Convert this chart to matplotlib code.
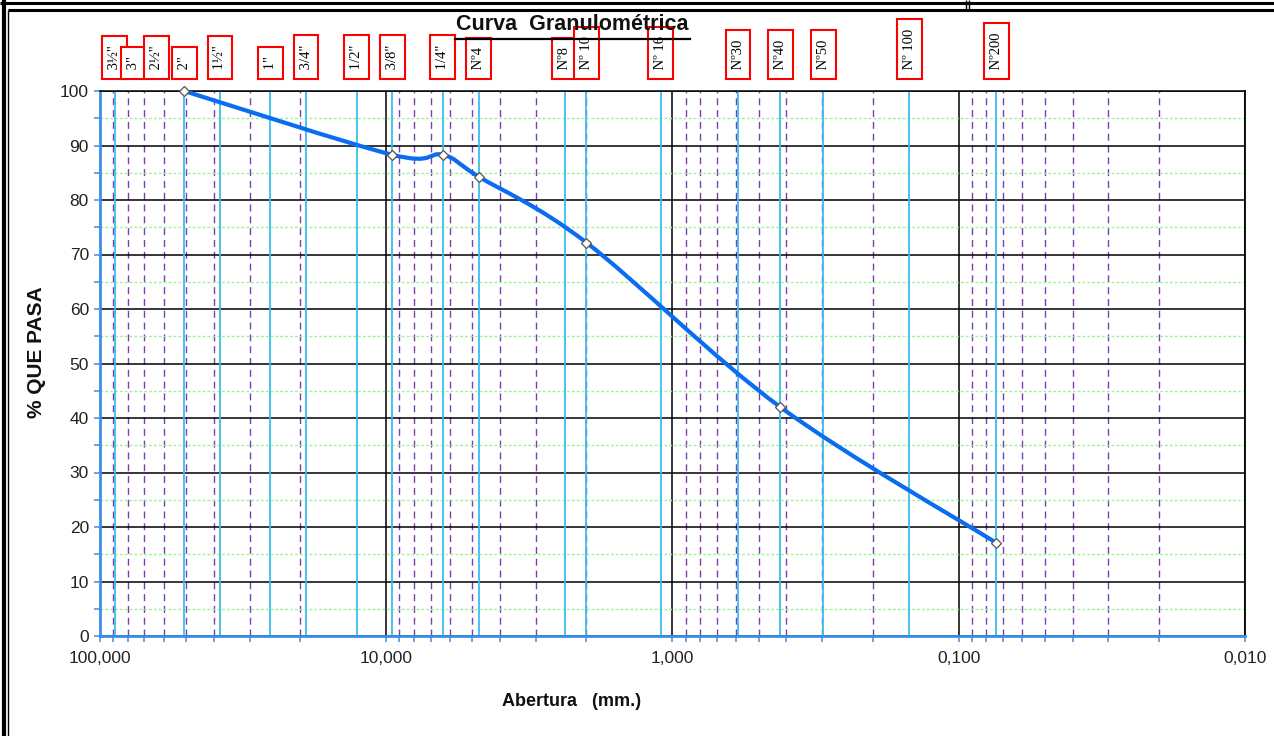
import numpy as np
import matplotlib
matplotlib.use("Agg")
import matplotlib.pyplot as plt
from matplotlib.path import Path
from matplotlib.patches import PathPatch
from matplotlib.lines import Line2D
from matplotlib.ticker import FixedLocator, FuncFormatter, LogLocator, NullFormatter
from matplotlib.transforms import blended_transform_factory

W, H = 1274, 736

# sieves: label, opening (mm), whether a cyan line is drawn
sieve_labels = ['3½"', '3"', '2½"', '2"', '1½"', '1"', '3/4"', '1/2"', '3/8"', '1/4"',
                'Nº4', 'Nº8', 'Nº 10', 'Nº 16', 'Nº30', 'Nº40', 'Nº50', 'Nº 100', 'Nº200']
sieve_mm = [88.9, 76.2, 63.5, 50.8, 38.1, 25.4, 19.05, 12.7, 9.525, 6.35,
            4.76, 2.38, 2.00, 1.10, 0.59, 0.42, 0.297, 0.149, 0.074]
sieve_line = [True, False, False, True, True, True, True, True, True, True,
              True, True, True, True, True, True, True, True, True]

# granulometric curve
abertura = [50.8, 9.525, 6.35, 4.76, 2.00, 0.42, 0.074]
pasa = [100.0, 88.3, 88.3, 84.3, 72.2, 42.0, 17.1]

xticks = [100, 10, 1, 0.1, 0.01]
yticks = list(range(0, 101, 10))

CYAN = '#3dbdee'
PURPLE = '#7a3fb0'
GREEN = '#9cf29c'
AXBLUE = '#3d8ee8'
CURVE = '#0a6cf0'

plt.rcParams['font.family'] = ['Liberation Sans', 'DejaVu Sans']


def smooth_path(xs, ys):
    # excel-like smoothed line: cubic bezier with catmull-rom tangents in log-x space
    lx = np.log10(xs)
    ly = np.array(ys, dtype=float)
    n = len(lx)
    verts = [(lx[0], ly[0])]
    codes = [Path.MOVETO]
    for i in range(n - 1):
        i0 = max(i - 1, 0)
        i3 = min(i + 2, n - 1)
        c1 = (lx[i] + (lx[i + 1] - lx[i0]) / 6, ly[i] + (ly[i + 1] - ly[i0]) / 6)
        c2 = (lx[i + 1] - (lx[i3] - lx[i]) / 6, ly[i + 1] - (ly[i3] - ly[i]) / 6)
        verts += [c1, c2, (lx[i + 1], ly[i + 1])]
        codes += [Path.CURVE4] * 3
    verts = np.array(verts)
    verts[:, 0] = 10 ** verts[:, 0]
    return Path(verts, codes)


fig = plt.figure(figsize=(W / 100, H / 100), dpi=100)
ax = fig.add_axes([100 / W, 1 - 636 / H, 1145 / W, 545 / H])
ax.set_xscale('log')
ax.set_xlim(100, 0.01)
ax.set_ylim(0, 100)

# grids
ax.xaxis.set_major_locator(FixedLocator(xticks))
ax.xaxis.set_minor_locator(LogLocator(base=10, subs=np.arange(2, 10)))
ax.xaxis.set_major_formatter(FuncFormatter(lambda v, p: f"{v:.3f}".replace('.', ',')))
ax.xaxis.set_minor_formatter(NullFormatter())
ax.yaxis.set_major_locator(FixedLocator(yticks))
ax.yaxis.set_minor_locator(FixedLocator(list(range(5, 100, 10))))

ax.grid(True, which='major', axis='both', color='black', lw=1.1, zorder=0)
ax.grid(True, which='minor', axis='x', color=PURPLE, lw=1.0, ls=(0, (5, 3.5)))
ax.grid(True, which='minor', axis='y', color=GREEN, lw=1.0, ls=(0, (2, 1.5)))
ax.set_axisbelow(True)

for d, show in zip(sieve_mm, sieve_line):
    if show:
        ax.axvline(d, color=CYAN, lw=1.3, zorder=1)

# curve + points
ax.add_patch(PathPatch(smooth_path(abertura, pasa), facecolor='none', edgecolor=CURVE,
                       lw=3.0, capstyle='round', zorder=4))
ax.plot(abertura, pasa, 'D', ms=5, mfc='white', mec='#555555', mew=0.9, zorder=5, clip_on=False)

# spines and ticks
for s in ['left', 'bottom']:
    ax.spines[s].set_color(AXBLUE)
    ax.spines[s].set_linewidth(2.0)
ax.spines['top'].set_color('black')
ax.spines['top'].set_linewidth(1.1)
ax.spines['right'].set_color('black')
ax.spines['right'].set_linewidth(1.3)
ax.tick_params(axis='both', which='both', direction='out', length=4, width=1.1, color=AXBLUE,
               labelsize=12.5, labelcolor='#222222')
ax.tick_params(axis='x', which='both', pad=7)
ax.tick_params(axis='y', which='both', pad=4)

# sieve label boxes above the plot
trans = blended_transform_factory(ax.transData, ax.transAxes)
for lab, d in zip(sieve_labels, sieve_mm):
    ax.text(d, 1 + 17.8 / 545, ' ' + lab + ' ', transform=trans, rotation=90,
            ha='center', va='bottom', fontsize=10.5,
            family=['Liberation Serif', 'DejaVu Serif'], color='black',
            zorder=6, clip_on=False,
            bbox=dict(boxstyle='square,pad=0.4', fc='white', ec='#ff0000', lw=1.5))

# title, axis labels
fig.text(572 / W, 1 - 24 / H, 'Curva  Granulométrica', ha='center', va='center',
         fontsize=15.5, fontweight='bold', color='#111111', zorder=1)
fig.add_artist(Line2D([455 / W, 690 / W], [1 - 38.5 / H, 1 - 38.5 / H], color='black', lw=1.6, zorder=1))
fig.text(37 / W, 1 - 352 / H, '% QUE PASA', rotation=90, ha='center', va='center',
         fontsize=15, fontweight='bold', color='#111111')
fig.text(572 / W, 1 - 702 / H, 'Abertura   (mm.)', ha='center', va='center',
         fontsize=13, fontweight='bold', color='#111111')

# outer frame
def fline(xs, ys, lw):
    fig.add_artist(Line2D([x / W for x in xs], [1 - y / H for y in ys], color='black', lw=lw,
                          solid_capstyle='butt'))

fline([0, W], [3, 3], 2.2)
fline([8, W], [9.5, 9.5], 2.2)
fline([3.5, 3.5], [0, H], 3.0)
fline([8, 8], [9.5, H], 1.0)
fline([966, 966], [0, 9.5], 1.0)
fline([968.5, 968.5], [0, 9.5], 1.0)

fig.savefig('out.png', dpi=100)
